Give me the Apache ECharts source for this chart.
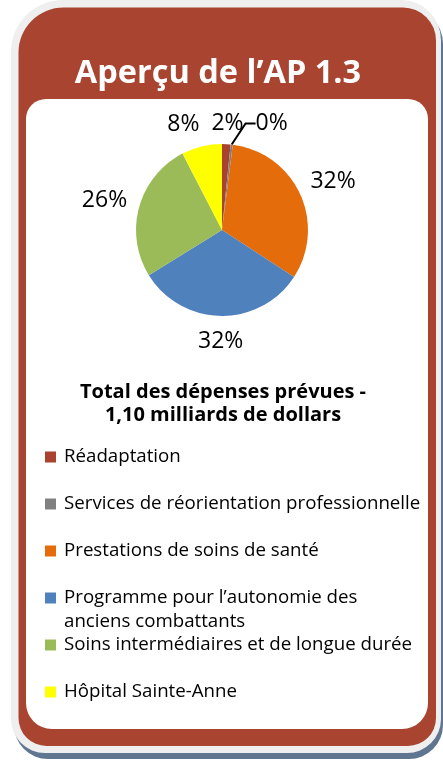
<!DOCTYPE html>
<html>
<head>
<meta charset="utf-8">
<script src="https://cdn.jsdelivr.net/npm/echarts@6/dist/echarts.min.js"></script>
<style>
  html, body { margin: 0; padding: 0; background: #ffffff; }
  #chart { width: 443px; height: 764px; }
</style>
</head>
<body>
<div id="chart"></div>
<script>
// ---- data ----
const categories = [
  'Réadaptation',
  'Services de réorientation professionnelle',
  'Prestations de soins de santé',
  'Programme pour l’autonomie des anciens combattants',
  'Soins intermédiaires et de longue durée',
  'Hôpital Sainte-Anne'
];
// legend text as wrapped in the original (first line in legend, wrapped remainder below)
const legendLabels = [
  'Réadaptation',
  'Services de réorientation professionnelle',
  'Prestations de soins de santé',
  'Programme pour l’autonomie des',
  'Soins intermédiaires et de longue durée',
  'Hôpital Sainte-Anne'
];
const legendWrapped = 'anciens combattants';
const shares = [1.6, 0.4, 32.2, 32.0, 26.2, 7.6];   // % of planned spending
const sliceColors = ['#A9432F', '#808080', '#E46C0A', '#4F81BD', '#9BBB59', '#FFFF00'];
const headerTitle = 'Aperçu de l’AP 1.3';
const chartTitle = 'Total des dépenses prévues -\n1,10 milliards de dollars';

// ---- style constants ----
const FONT = '"Open Sans", Lato, sans-serif';
const LABEL_GAP = 11;
const LABEL_PAD = 12;
const LABEL_DY = 3;
const LEGEND_FONT = 18.7;

let placed = [];
function layoutPctLabel(p) {
  if (p.dataIndex === 0) placed = [];
  const pts = p.labelLinePoints;
  if (!pts || pts.length < 2) return {};
  const ax = pts[0][0], ay = pts[0][1];
  let dx = pts[1][0] - ax, dy = pts[1][1] - ay;
  const len = Math.hypot(dx, dy) || 1; dx /= len; dy /= len;
  const w = p.labelRect.width, h = p.labelRect.height;
  const ext = Math.abs(dx) * w / 2 + Math.abs(dy) * h / 2;
  let cx = ax + dx * (LABEL_GAP + ext), cy = ay + dy * (LABEL_GAP + ext);
  for (const r of placed) {
    if (Math.abs(cy - r.cy) < (h + r.h) / 2 &&
        cx - w / 2 < r.cx + r.w / 2 + LABEL_PAD && cx + w / 2 > r.cx - r.w / 2 - LABEL_PAD) {
      if (cx >= r.cx) cx = r.cx + r.w / 2 + LABEL_PAD + w / 2;
      else cx = r.cx - r.w / 2 - LABEL_PAD - w / 2;
    }
  }
  placed.push({cx, cy, w, h});
  return {x: cx, y: cy + LABEL_DY, align: 'center', verticalAlign: 'middle'};
}

const total = shares.reduce((a, b) => a + b, 0);
const pieData = categories.map((name, i) => {
  const tiny = shares[i] / total < 0.01;
  return {
    name: name,
    value: shares[i],
    itemStyle: { color: sliceColors[i] },
    labelLine: tiny
      ? { show: true, length: 8, length2: 10, lineStyle: { color: '#000', width: 2, opacity: 1 } }
      : { show: true, length: 10, length2: 0, lineStyle: { opacity: 0 } }
  };
});

const legendText = {
  fontFamily: FONT, fontSize: LEGEND_FONT, color: '#000', lineHeight: 26, padding: [0, 0, 0, 3]
};
const fmtLegend = name => legendLabels[categories.indexOf(name)];

const chart = echarts.init(document.getElementById('chart'), null, { renderer: 'canvas' });
chart.setOption({
  animation: false,
  backgroundColor: '#ffffff',
  graphic: [
    { type: 'rect', z: 0, shape: { x: 14, y: 6, width: 429, height: 753, r: [50, 38, 34, 34] },
      style: { fill: '#5f7590' } },
    { type: 'rect', z: 0, shape: { x: 11, y: 0, width: 430, height: 753, r: [52, 40, 34, 34] },
      style: { fill: '#efefef' } },
    { type: 'rect', z: 0, shape: { x: 18.5, y: 7.5, width: 417.5, height: 738.5, r: [45, 33, 28, 28] },
      style: { fill: '#A8442F' } },
    { type: 'rect', z: 0, shape: { x: 26, y: 99, width: 402, height: 630, r: [20, 20, 26, 26] },
      style: { fill: '#ffffff' } },
    { type: 'text', z: 5, x: 64, y: 622,
      style: { text: legendWrapped, fontFamily: FONT, fontSize: LEGEND_FONT, fill: '#000',
               verticalAlign: 'middle', align: 'left' } }
  ],
  title: [
    { text: headerTitle, left: 218, top: 57, padding: 0, textAlign: 'center',
      textStyle: { color: '#ffffff', fontFamily: FONT, fontWeight: 'bold', fontSize: 32.5 } },
    { text: chartTitle, left: 223, top: 381, padding: 0, textAlign: 'center',
      textStyle: { color: '#000000', fontFamily: FONT, fontWeight: 'bold', fontSize: 20, lineHeight: 23 } }
  ],
  legend: [
    {
      orient: 'vertical', left: 45, top: 444, padding: 0,
      itemWidth: 11, itemHeight: 11, itemGap: 21, icon: 'rect', selectedMode: false,
      data: categories.slice(0, 4), formatter: fmtLegend, textStyle: legendText
    },
    {
      orient: 'vertical', left: 45, top: 632, padding: 0,
      itemWidth: 11, itemHeight: 11, itemGap: 21, icon: 'rect', selectedMode: false,
      data: categories.slice(4), formatter: fmtLegend, textStyle: legendText
    }
  ],
  series: [{
    type: 'pie',
    center: [222, 230],
    radius: 86,
    startAngle: 90,
    clockwise: true,
    avoidLabelOverlap: false,
    emphasis: { disabled: true },
    itemStyle: { borderWidth: 0 },
    label: {
      show: true,
      position: 'outside',
      fontFamily: FONT,
      fontSize: 23,
      color: '#000',
      formatter: p => Math.round(p.percent) + '%'
    },
    labelLayout: layoutPctLabel,
    data: pieData
  }]
});
</script>
</body>
</html>
